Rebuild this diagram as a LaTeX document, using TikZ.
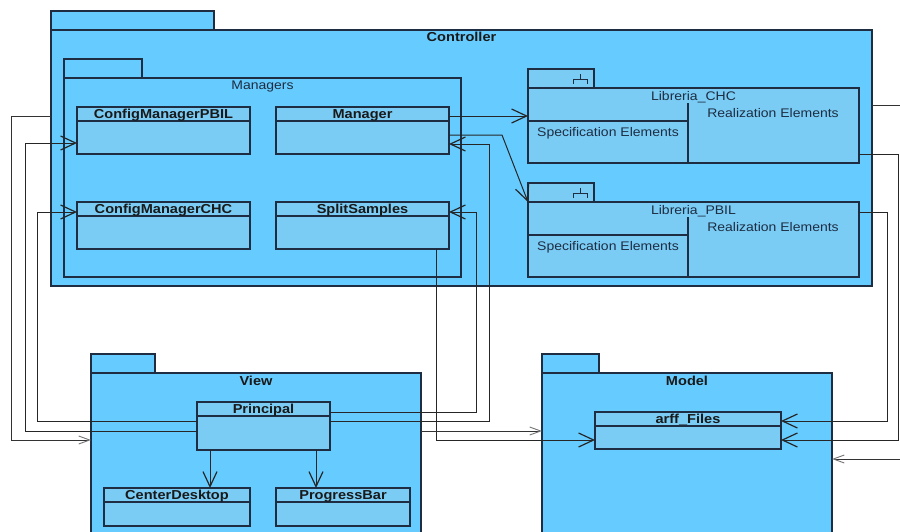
\documentclass[tikz,border=0pt]{standalone}
\usepackage{fontspec}
\setmainfont{Liberation Sans}[FakeStretch=1.12]
\usepackage{tikz}
\usetikzlibrary{arrows.meta,calc}

\definecolor{pkgblue}{RGB}{102,204,255}
\definecolor{clsblue}{RGB}{122,204,245}
\definecolor{edgenavy}{RGB}{30,45,66}

\tikzset{
  pkgbox/.style={draw=edgenavy, fill=pkgblue, line width=1.1pt, anchor=north west, inner sep=0pt, outer sep=0pt},
  clsbox/.style={draw=edgenavy, fill=clsblue, line width=1.1pt, anchor=north west, inner sep=0pt, outer sep=0pt},
  boxline/.style={draw=edgenavy, line width=1.1pt},
  boldname/.style={font=\fontsize{13}{13}\selectfont\bfseries, anchor=base, inner sep=0pt, text=black!90},
  plainname/.style={font=\fontsize{12.5}{12.5}\selectfont, anchor=base, inner sep=0pt, text=edgenavy},
  dep/.style={draw=black!85, line width=1pt, -{Straight Barb[length=15pt,width=14pt,line width=1.2pt]}},
  pkgdep/.style={draw=black!80, line width=0.9pt, -{Straight Barb[length=11pt,width=8pt,color=black!55]}},
}

% class box: name, x, y, width, height, text
\newcommand{\umlclass}[6]{%
  \node[clsbox, minimum width=#4, minimum height=#5] (#1) at (#2,#3) {};
  \draw[boxline] ([yshift=-14pt]#1.north west) -- ([yshift=-14pt]#1.north east);
  \node[boldname] at ([yshift=-11.5pt]#1.north) {#6};
}

% subsystem with specification / realization parts
\newcommand{\umlsubsys}[4]{% name, x, y, text
  \node[clsbox, minimum width=66, minimum height=19] (#1tab) at (#2,#3) {};
  \node[clsbox, minimum width=331, minimum height=75] (#1) at (#2,#3+19) {};
  \draw[boxline, line width=0.9pt] ($(#1tab.north east)+(-21,14.5)$) -- ++(0,-4.5) -- ++(14,0) -- ++(0,4.5);
  \draw[boxline, line width=0.9pt] ($(#1tab.north east)+(-14,10)$) -- ++(0,-5);
  \draw[boxline] ($(#1.south west)+(160,0)$) -- ($(#1.north west)+(160,15)$);
  \draw[boxline] ($(#1.north west)+(0,33)$) -- ($(#1.north west)+(160,33)$);
  \node[plainname] at ($(#1.north)+(0,12.3)$) {#4};
  \node[plainname] at ($(#1.north west)+(245,29)$) {Realization Elements};
  \node[plainname] at ($(#1.north west)+(80,48)$) {Specification Elements};
}

\begin{document}
\begin{tikzpicture}[x=1pt, y=-1pt]
  \useasboundingbox (0,0) rectangle (900,531);
  \clip (0,0) rectangle (900,531);

  % Controller package
  \node[pkgbox, minimum width=163, minimum height=19] (ctrltab) at (51,11) {};
  \node[pkgbox, minimum width=821, minimum height=256] (ctrl) at (51,30) {};
  \node[boldname] at ([yshift=-11.3pt]ctrl.north) {Controller};

  % Managers package
  \node[pkgbox, minimum width=78, minimum height=19] (mgrtab) at (64,59) {};
  \node[pkgbox, minimum width=397, minimum height=199] (mgr) at (64,78) {};
  \node[plainname] at ([yshift=-11.3pt]mgr.north) {Managers};

  \umlclass{cmpbil}{77}{107}{173}{47}{ConfigManagerPBIL}
  \umlclass{manager}{276}{107}{173}{47}{Manager}
  \umlclass{cmchc}{77}{202}{173}{47}{ConfigManagerCHC}
  \umlclass{split}{276}{202}{173}{47}{SplitSamples}

  % libraries
  \umlsubsys{libchc}{528}{69}{Libreria\_CHC}
  \umlsubsys{libpbil}{528}{183}{Libreria\_PBIL}

  % View package
  \node[pkgbox, minimum width=64, minimum height=19] (viewtab) at (91,354) {};
  \node[pkgbox, minimum width=330, minimum height=170] (view) at (91,373) {};
  \node[boldname] at ([yshift=-12pt]view.north) {View};

  \umlclass{principal}{197}{402}{133}{48}{Principal}
  \umlclass{centerdesk}{104}{488}{146}{38}{CenterDesktop}
  \umlclass{progress}{276}{488}{134}{38}{ProgressBar}

  % Model package
  \node[pkgbox, minimum width=57, minimum height=19] (modeltab) at (542,354) {};
  \node[pkgbox, minimum width=290, minimum height=170] (model) at (542,373) {};
  \node[boldname] at ([yshift=-12pt]model.north) {Model};

  \umlclass{arff}{595}{412}{186}{37}{arff\_Files}

  % dependencies
  \draw[pkgdep] (ctrl.west |- 0,116) -- (11,116) |- (view.west |- 0,440);
  \draw[dep] (principal.west |- 0,431) -- (25,431) |- (cmpbil.west |- 0,143);
  \draw[dep] (principal.west |- 0,421) -- (37,421) |- (cmchc.west |- 0,212);
  \draw[dep] (principal.east |- 0,412) -- (476,412) |- (split.east |- 0,212);
  \draw[dep] (principal.east |- 0,421) -- (489,421) |- (manager.east |- 0,144);
  \draw[dep] (split.south -| 436,0) |- (arff.west |- 0,440);
  \draw[pkgdep] (view.east |- 0,431) -- (model.west |- 0,431);
  \draw[dep] (manager.east |- 0,116) -- (libchc.west |- 0,116);
  \draw[dep] (manager.east |- 0,135) -- (502,135) -- (libpbiltab.south west);
  \draw[dep] (libchc.east |- 0,154) -- (898,154) |- (arff.east |- 0,440);
  \draw[dep] (libpbil.east |- 0,212) -- (887,212) |- (arff.east |- 0,421);
  \draw[pkgdep] (ctrl.east |- 0,105) -- (910,105) |- (model.east |- 0,459);

  \draw[dep] (principal.south -| 210,0) -- (centerdesk.north -| 210,0);
  \draw[dep] (principal.south -| 316,0) -- (progress.north -| 316,0);
\end{tikzpicture}
\end{document}
